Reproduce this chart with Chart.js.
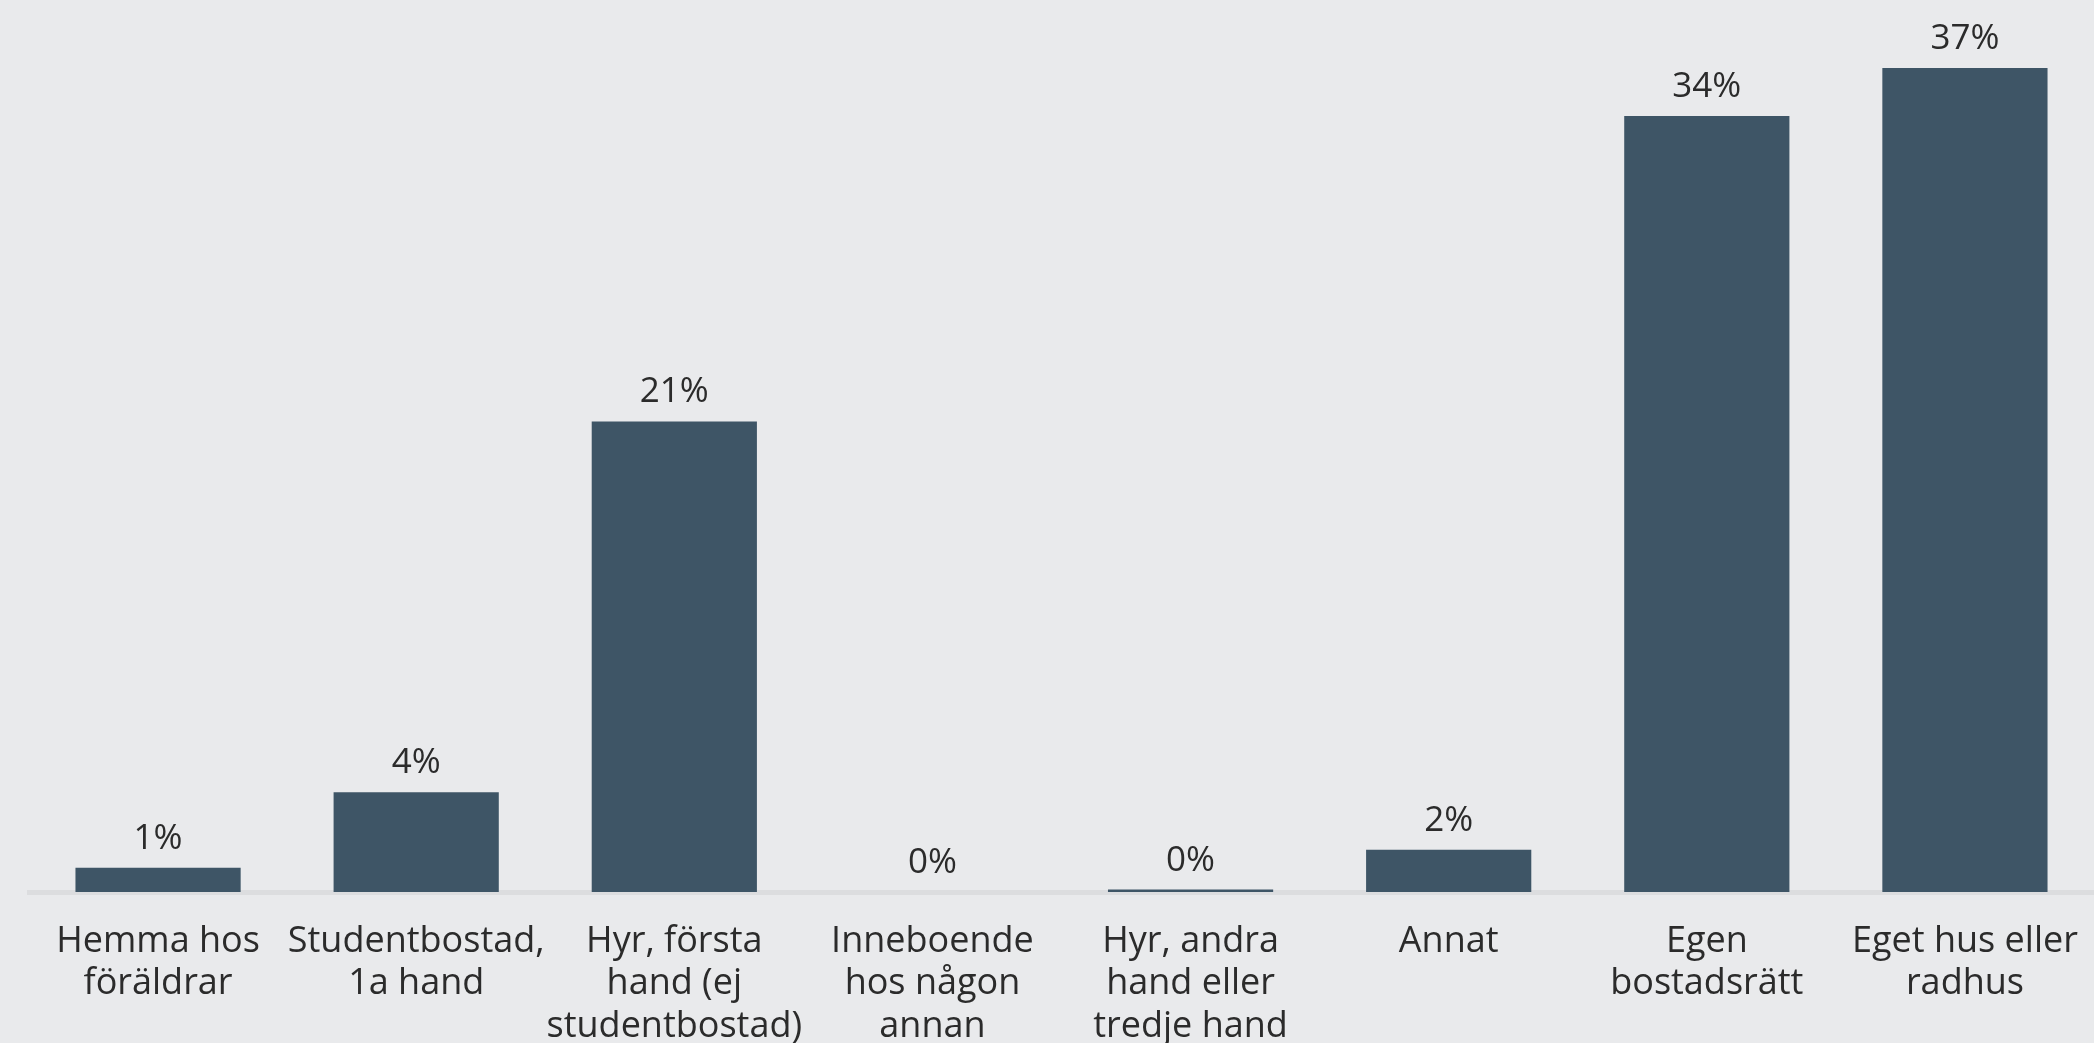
<!DOCTYPE html>
<html>
<head>
<meta charset="utf-8">
<script src="https://cdn.jsdelivr.net/npm/chart.js@4"></script>
<style>
  html, body { margin: 0; padding: 0; background: #e9eaec; overflow: hidden; }
  #wrap { width: 2094px; height: 1043px; position: relative; }
  canvas { display: block; }
</style>
</head>
<body>
<div id="wrap"><canvas id="c"></canvas></div>
<script>
// Boendeform — andel (%)
const CATEGORIES = [
  ['Hemma hos', 'föräldrar'],
  ['Studentbostad,', '1a hand'],
  ['Hyr, första', 'hand (ej', 'studentbostad)'],
  ['Inneboende', 'hos någon', 'annan'],
  ['Hyr, andra', 'hand eller', 'tredje hand'],
  ['Annat'],
  ['Egen', 'bostadsrätt'],
  ['Eget hus eller', 'radhus'],
];
const VALUES = [1.08, 4.43, 20.89, 0, 0.11, 1.88, 34.45, 36.58];
const VALUE_LABELS = ['1%', '4%', '21%', '0%', '0%', '2%', '34%', '37%'];

const BAR = '#3e5566';
const TEXT = '#2b2b2b';
const AXIS_LINE = '#dcdddf';
const FONT = "'Open Sans', sans-serif";

// procentetikett ovanför varje stapel
const valueLabels = {
  id: 'valueLabels',
  afterDatasetsDraw(chart) {
    const { ctx } = chart;
    const meta = chart.getDatasetMeta(0);
    ctx.save();
    ctx.fillStyle = TEXT;
    ctx.font = '35px ' + FONT;
    ctx.textAlign = 'center';
    ctx.textBaseline = 'alphabetic';
    meta.data.forEach((bar, i) => {
      ctx.fillText(VALUE_LABELS[i], bar.x, bar.y - 19);
    });
    ctx.restore();
  },
};

new Chart(document.getElementById('c'), {
  type: 'bar',
  data: {
    labels: CATEGORIES,
    datasets: [{
      data: VALUES,
      backgroundColor: BAR,
      borderWidth: 0,
      barPercentage: 0.8,
      categoryPercentage: 0.8,
    }],
  },
  options: {
    responsive: true, maintainAspectRatio: false,
    animation: false,
    layout: { padding: { left: 29, right: 0, top: 0, bottom: 0 } },
    plugins: { legend: { display: false }, tooltip: { enabled: false } },
    scales: {
      x: {
        grid: { display: false, drawTicks: false },
        border: { display: true, color: AXIS_LINE, width: 5 },
        ticks: {
          color: TEXT, padding: 29, autoSkip: false, maxRotation: 0, minRotation: 0,
          font: { family: FONT, size: 36, lineHeight: 1.17 },
        },
        // fast höjd för etikettraden, ingen extra kantmarginal för sista etiketten
        afterFit: (s) => { s.height = 151; s.paddingLeft = 0; s.paddingRight = 0; },
      },
      y: { display: false, min: 0, max: 39.6 },
    },
  },
  plugins: [valueLabels],
});
</script>
</body>
</html>
